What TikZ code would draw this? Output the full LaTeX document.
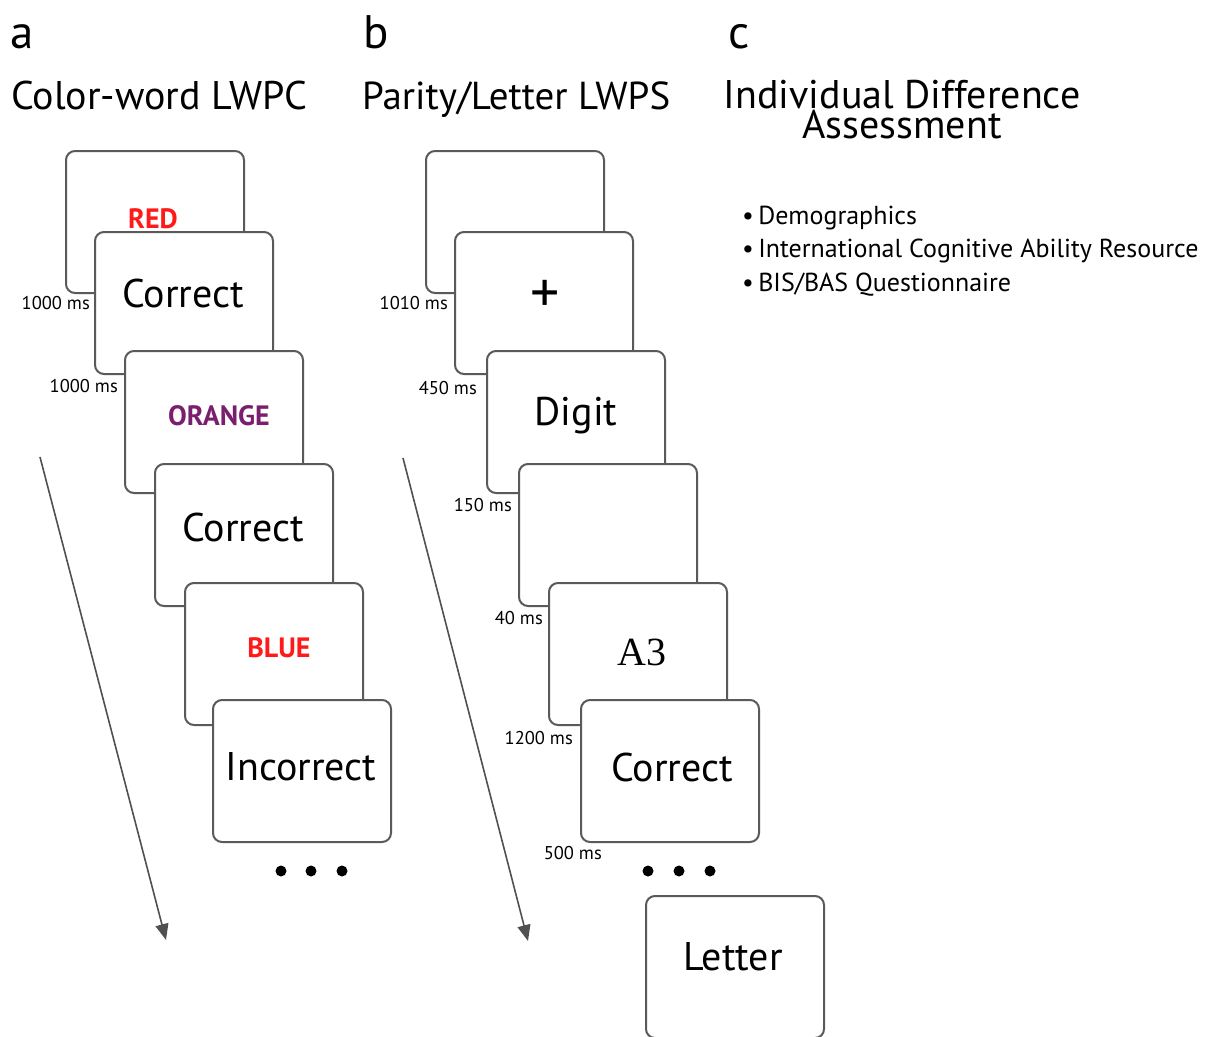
\documentclass[tikz,border=0pt]{standalone}
\usepackage{fontspec}
\setmainfont{PT Sans}
\newfontfamily\serifA{Liberation Serif}
\usetikzlibrary{arrows.meta}
\definecolor{boxgray}{HTML}{5A5A5A}
\definecolor{stimred}{HTML}{FF1A1A}
\definecolor{stimpurple}{HTML}{7A1E6E}
\definecolor{arrowgray}{HTML}{505050}
\tikzset{
  screen/.style={draw=boxgray, line width=2pt, rounded corners=9pt, fill=white,
    minimum width=178pt, minimum height=142pt, anchor=north west, inner sep=0pt},
  boxtext/.style={font=\fontsize{40}{42}\selectfont, inner sep=0pt},
  colortext/.style={font=\fontsize{28}{30}\selectfont\bfseries, inner sep=0pt},
  timelbl/.style={font=\fontsize{18.5}{20}\selectfont, inner sep=0pt, anchor=east},
  paneltag/.style={font=\fontsize{47}{49}\selectfont, inner sep=0pt, anchor=base west},
  paneltitle/.style={font=\fontsize{40}{42}\selectfont, inner sep=0pt, anchor=base west},
  bulletitem/.style={font=\fontsize{26}{28}\selectfont, inner sep=0pt, anchor=base west},
  timearrow/.style={draw=arrowgray, line width=1.6pt, -{Triangle[length=16pt,width=13pt]}},
  dot/.style={circle, fill=black, minimum size=11pt, inner sep=0pt}
}
\begin{document}
\begin{tikzpicture}[x=1pt,y=-1pt]
\useasboundingbox (0,0) rectangle (1212,1036);
% panel tags and titles
\node[paneltag] (taga) at (10,48) {a};
\node[paneltag] (tagb) at (363,48) {b};
\node[paneltag] (tagc) at (728,48) {c};
\node[paneltitle] (titlea) at (11,109) {Color-word LWPC};
\node[font=\fontsize{39}{41}\selectfont, inner sep=0pt, anchor=base west] (titleb) at (362,109) {Parity/Letter LWPS};
\node[font=\fontsize{40}{42}\selectfont, inner sep=0pt, align=center, anchor=base] (titlec) at (902,138) {Individual Difference\\[-12pt]Assessment};

% panel a screens
\node[screen] (a1) at (65,150) {};
\node[colortext, text=stimred] (a1t) at (153,219) {RED};
\node[screen] (a2) at (94,231) {};
\node[boxtext] (a2t) at (183,293) {Correct};
\node[screen] (a3) at (124,350) {};
\node[colortext, text=stimpurple] (a3t) at (219,416) {ORANGE};
\node[screen] (a4) at (154,463) {};
\node[boxtext] (a4t) at (243,527) {Correct};
\node[screen] (a5) at (184,582) {};
\node[colortext, text=stimred] (a5t) at (279,648) {BLUE};
\node[screen] (a6) at (212,699) {};
\node[boxtext] (a6t) at (301,767) {Incorrect};
\node[timelbl] (la1) at (90,303) {1000 ms};
\node[timelbl] (la2) at (118,386) {1000 ms};
\node[dot] (da1) at (281,871) {};
\node[dot] (da2) at (311,871) {};
\node[dot] (da3) at (342,871) {};
\coordinate (arA0) at (40,457);
\coordinate (arA1) at (166,940);
\draw[timearrow] (arA0) -- (arA1);

% panel b screens
\node[screen] (b1) at (425,150) {};
\node[screen] (b2) at (454,231) {};
\node[font=\fontsize{58}{60}\selectfont, inner sep=0pt] (b2t) at (545,296) {+};
\node[screen] (b3) at (486,350) {};
\node[boxtext] (b3t) at (576,416) {Digit};
\node[screen] (b4) at (518,463) {};
\node[screen] (b5) at (548,582) {};
\node[font=\serifA\fontsize{40}{42}\selectfont, inner sep=0pt] (b5t) at (642,652) {A3};
\node[screen] (b6) at (580,699) {};
\node[boxtext] (b6t) at (672,767) {Correct};
\node[screen] (b7) at (645,895) {};
\node[boxtext] (b7t) at (733,957) {Letter};
\node[timelbl] (lb1) at (448,303) {1010 ms};
\node[timelbl] (lb2) at (477,388) {450 ms};
\node[timelbl] (lb3) at (512,505) {150 ms};
\node[timelbl] (lb4) at (543,618) {40 ms};
\node[timelbl] (lb5) at (573,738) {1200 ms};
\node[timelbl] (lb6) at (602,853) {500 ms};
\node[dot] (db1) at (648,871) {};
\node[dot] (db2) at (679,871) {};
\node[dot] (db3) at (710,871) {};
\coordinate (arB0) at (403,458);
\coordinate (arB1) at (528,941);
\draw[timearrow] (arB0) -- (arB1);

% panel c list
\node[bulletitem] (c1) at (742,224) {\textbullet\,Demographics};
\node[bulletitem] (c2) at (742,257) {\textbullet\,International Cognitive Ability Resource};
\node[bulletitem] (c3) at (742,291) {\textbullet\,BIS/BAS Questionnaire};
\end{tikzpicture}
\end{document}
